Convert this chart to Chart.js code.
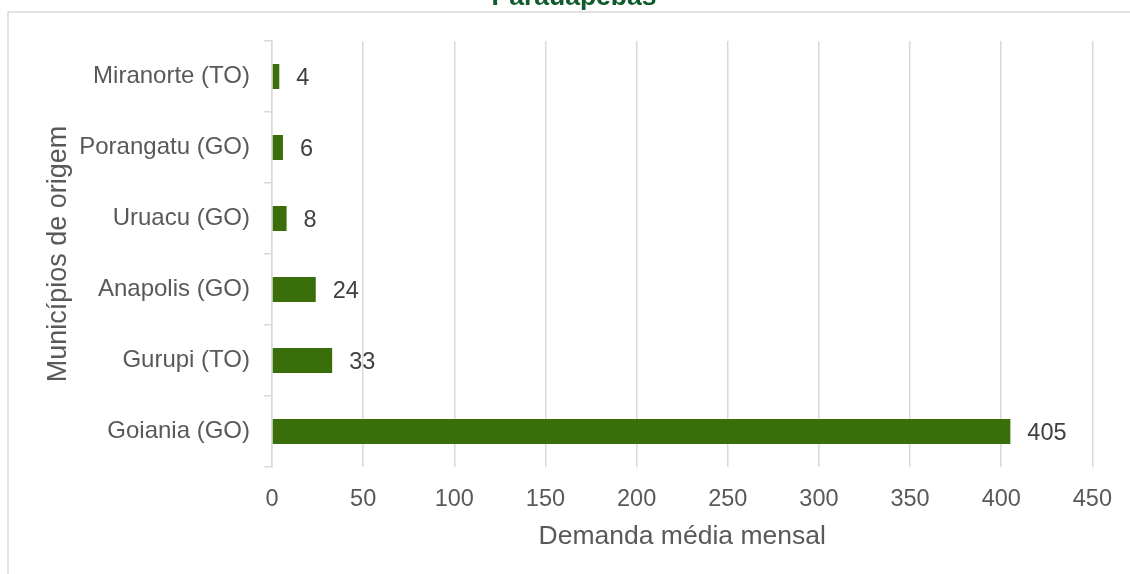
<!DOCTYPE html>
<html>
<head>
<meta charset="utf-8">
<script src="https://cdn.jsdelivr.net/npm/chart.js@4/dist/chart.umd.min.js"></script>
<style>
  html, body { margin: 0; padding: 0; background: #ffffff; }
  #wrap { width: 1130px; height: 574px; position: relative; }
</style>
</head>
<body>
<div id="wrap"><canvas id="chart" width="1130" height="574"></canvas></div>
<script>
// Origin municipalities and their average monthly demand
const categories = ['Miranorte (TO)', 'Porangatu (GO)', 'Uruacu (GO)', 'Anapolis (GO)', 'Gurupi (TO)', 'Goiania (GO)'];
const demandValues = [4, 6, 8, 24, 33, 405];
const xTicks = [0, 50, 100, 150, 200, 250, 300, 350, 400, 450];

const chartTitle = 'Parauapebas';
const xTitle = 'Demanda média mensal';
const yTitle = 'Municípios de origem';

const FONT = '"Liberation Sans", Arial, Helvetica, sans-serif';
const GRID = '#d9d9d9';
const TEXT = '#595959';

// Frame around the chart and the heading above it
const framePlugin = {
  id: 'frame',
  beforeDraw(chart) {
    const ctx = chart.ctx;
    ctx.save();
    ctx.strokeStyle = GRID;
    ctx.lineWidth = 1.5;
    ctx.beginPath();
    ctx.moveTo(8, chart.height + 2);
    ctx.lineTo(8, 12);
    ctx.lineTo(chart.width + 2, 12);
    ctx.stroke();
    ctx.fillStyle = '#0f5a2a';
    ctx.font = 'bold 26.5px ' + FONT;
    ctx.textAlign = 'center';
    ctx.textBaseline = 'alphabetic';
    ctx.fillText(chartTitle, 574, 5);
    ctx.restore();
  }
};

// Value labels at the end of each bar
const valueLabels = {
  id: 'valueLabels',
  afterDatasetsDraw(chart) {
    const ctx = chart.ctx;
    const meta = chart.getDatasetMeta(0);
    const data = chart.data.datasets[0].data;
    ctx.save();
    ctx.font = '23.5px ' + FONT;
    ctx.fillStyle = '#404040';
    ctx.textAlign = 'left';
    ctx.textBaseline = 'middle';
    meta.data.forEach((bar, i) => {
      ctx.fillText(String(data[i]), bar.x + 17, bar.y + 2);
    });
    ctx.restore();
  }
};

new Chart(document.getElementById('chart'), {
  type: 'bar',
  data: {
    labels: categories,
    datasets: [{
      data: demandValues,
      backgroundColor: '#3a6e0a',
      borderWidth: 0,
      barPercentage: 0.352,
      categoryPercentage: 1
    }]
  },
  options: {
    indexAxis: 'y',
    responsive: false,
    animation: false,
    layout: { padding: { top: 41, right: 37, left: 0, bottom: 0 } },
    plugins: {
      legend: { display: false },
      title: { display: false },
      tooltip: { enabled: false }
    },
    scales: {
      x: {
        min: 0,
        max: 450,
        afterBuildTicks(scale) { scale.ticks = xTicks.map(v => ({ value: v })); },
        afterFit(scale) { scale.height = 107; },
        grid: { color: GRID, lineWidth: 1.5, drawTicks: false },
        border: { display: false },
        ticks: { color: TEXT, font: { family: FONT, size: 23.5 }, padding: 18, maxRotation: 0 },
        title: {
          display: true, text: xTitle, color: TEXT,
          font: { family: FONT, size: 26.5 },
          padding: { top: 0, bottom: 21 }
        }
      },
      y: {
        afterFit(scale) { scale.width = 272; },
        grid: { color: GRID, lineWidth: 1.5, drawOnChartArea: false, drawTicks: true, tickLength: 8, offset: true },
        border: { display: true, color: GRID, width: 1.5 },
        ticks: { color: TEXT, font: { family: FONT, size: 24 }, padding: 14 },
        title: {
          display: true, text: yTitle, color: TEXT,
          font: { family: FONT, size: 27 },
          padding: { top: 42, bottom: 0 }
        }
      }
    }
  },
  plugins: [framePlugin, valueLabels]
});
</script>
</body>
</html>
